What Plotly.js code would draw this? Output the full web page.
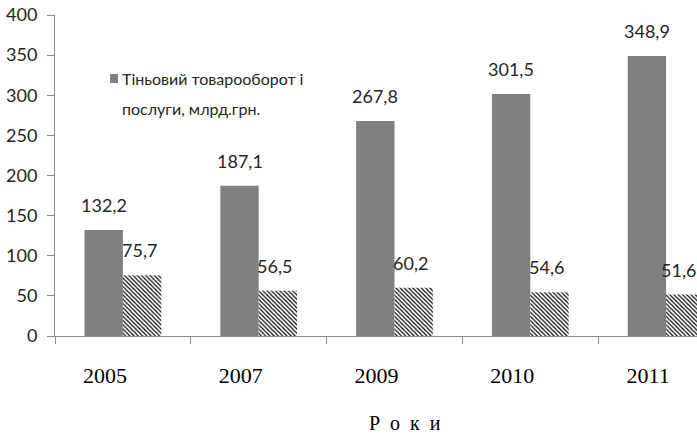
<!DOCTYPE html>
<html>
<head>
<meta charset="utf-8">
<script src="https://cdn.plot.ly/plotly-3.0.1.min.js"></script>
<style>
html,body{margin:0;padding:0;overflow:hidden;background:#fff;}
#chart{width:740px;height:437px;}
</style>
</head>
<body>
<div id="chart"></div>
<script>
// ---- data ----
var years = ["2005", "2007", "2009", "2010", "2011"];
var shadowTrade = [132.2, 187.1, 267.8, 301.5, 348.9];
var secondSeries = [75.7, 56.5, 60.2, 54.6, 51.6];
var legendLines = ["Тіньовий товарооборот і", "послуги, млрд.грн."];
var xTitle = "Р\u00a0\u00a0о\u00a0\u00a0к\u00a0\u00a0и";

function fmt(v) { return v.toFixed(1).replace(".", ","); }

// ---- layout constants ----
var W = 740, H = 437, VIEW_W = 697;
var mL = 55, mR = 6, mT = 15, mB = 101;
var plotW = W - mL - mR, plotH = H - mT - mB;
var bargap = 0.435;
var catW = plotW / years.length;
var barW = catW * (1 - bargap) / 2;

var numFont = {family: "Lato, 'Noto Sans', sans-serif", size: 18, color: "#262626"};
var serifFont = {family: "'Liberation Serif', 'Times New Roman', serif", size: 22, color: "#000"};

var traces = [
  {
    type: "bar", x: years, y: shadowTrade, name: legendLines.join(" "),
    marker: {color: "#808080", line: {width: 0}},
    hoverinfo: "skip", showlegend: false
  },
  {
    type: "bar", x: years, y: secondSeries, name: "series2",
    marker: {color: "#ffffff", line: {width: 0},
      pattern: {shape: "\\", fgcolor: "#000000", bgcolor: "#ffffff", size: 3, solidity: 0.38}},
    hoverinfo: "skip", showlegend: false
  }
];

function px2x(p) { return (p - mL) / plotW; }
function px2y(p) { return (H - mB - p) / plotH; }

var annotations = [];
years.forEach(function (yr, i) {
  // category axis: annotation x given as category index
  annotations.push({x: i, y: shadowTrade[i], xref: "x", yref: "y", text: fmt(shadowTrade[i]),
    showarrow: false, xanchor: "center", yanchor: "bottom", xshift: -barW / 2, yshift: 12, font: numFont});
  var sh = barW / 2 - 3;
  var centerPx = mL + catW * (i + 0.5) + sh;
  if (centerPx + 19 > VIEW_W) sh -= (centerPx + 19 - VIEW_W);   // keep last label inside the window
  annotations.push({x: i, y: secondSeries[i], xref: "x", yref: "y", text: fmt(secondSeries[i]),
    showarrow: false, xanchor: "center", yanchor: "bottom", xshift: sh, yshift: 12, font: numFont});
});

var legFont = {family: "Lato, 'Noto Sans', sans-serif", size: 16, color: "#262626"};
annotations.push({xref: "paper", yref: "paper", x: px2x(120), y: px2y(78), text: legendLines[0],
  showarrow: false, xanchor: "left", yanchor: "middle", font: legFont});
annotations.push({xref: "paper", yref: "paper", x: px2x(120), y: px2y(108), text: legendLines[1],
  showarrow: false, xanchor: "left", yanchor: "middle", font: legFont});
// axis title
annotations.push({xref: "paper", yref: "paper", x: px2x(405), y: px2y(423), text: xTitle,
  showarrow: false, xanchor: "center", yanchor: "middle",
  font: {family: serifFont.family, size: 20, color: "#000"}});

var layout = {
  width: W, height: H,
  margin: {l: mL, r: mR, t: mT, b: mB, pad: 0},
  paper_bgcolor: "#ffffff", plot_bgcolor: "#ffffff",
  barmode: "group", bargap: bargap, bargroupgap: 0,
  showlegend: false,
  xaxis: {
    type: "category", range: [-0.5, years.length - 0.5],
    showline: true, linecolor: "#8c8c8c", linewidth: 1,
    ticks: "outside", tickson: "boundaries", ticklen: 7, tickcolor: "#8c8c8c",
    showgrid: false, zeroline: false,
    tickfont: serifFont,
    ticklabelshift: -18, ticklabelstandoff: 20
  },
  yaxis: {
    range: [0, 400], dtick: 50,
    showline: true, linecolor: "#8c8c8c", linewidth: 1,
    ticks: "outside", ticklen: 7, tickcolor: "#8c8c8c",
    showgrid: false, zeroline: false,
    tickfont: numFont, ticklabelstandoff: 6
  },
  shapes: [{type: "rect", xref: "paper", yref: "paper",
    x0: px2x(110), x1: px2x(118), y0: px2y(83), y1: px2y(74),
    fillcolor: "#808080", line: {width: 0}}],
  annotations: annotations
};

Plotly.newPlot("chart", traces, layout, {displayModeBar: false, staticPlot: true, responsive: false});
</script>
</body>
</html>
